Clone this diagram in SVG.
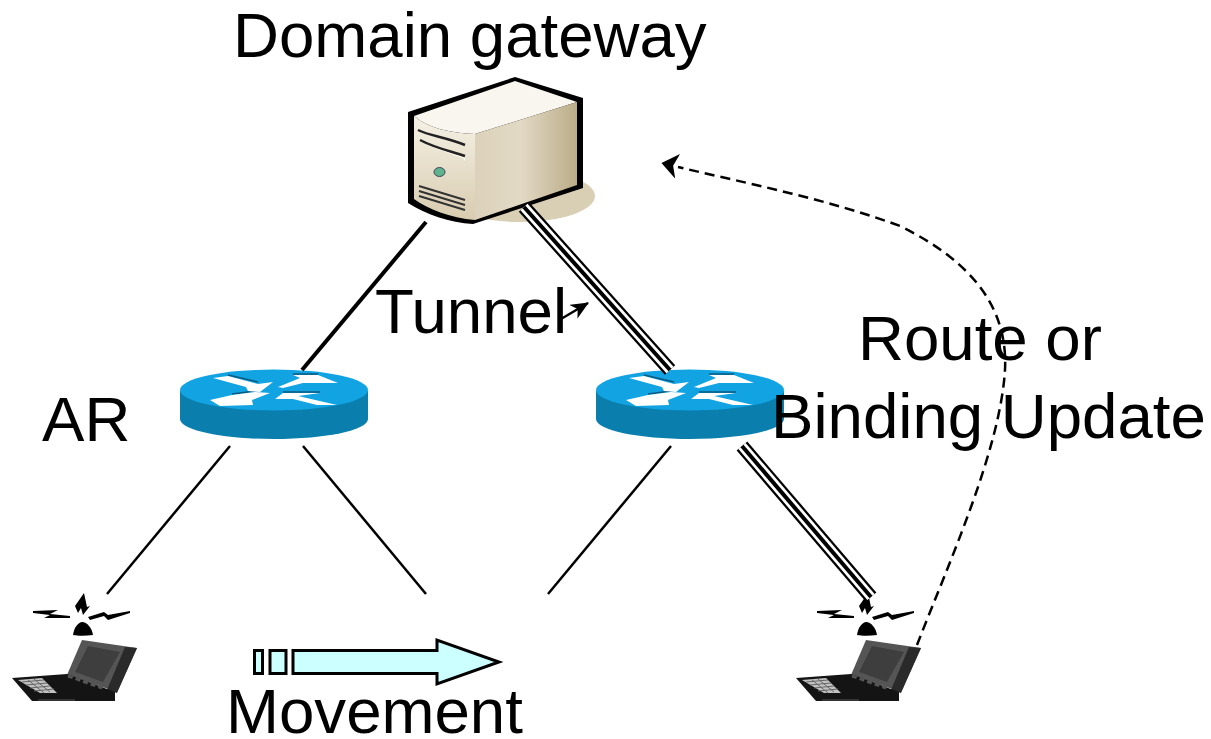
<svg xmlns="http://www.w3.org/2000/svg" width="1211" height="739" viewBox="0 0 1211 739">
<style>
text{font-family:"Liberation Sans",Arial,sans-serif;font-size:63.600px;fill:#000}
.l{fill:none;stroke:#000;stroke-width:2.5}
.tb{fill:none;stroke:#000;stroke-width:14}
.tw{fill:none;stroke:#fff;stroke-width:9.500}
.tm{fill:none;stroke:#000;stroke-width:4}
.mv{fill:#ccffff;stroke:#000;stroke-width:3}
</style>
<defs>
<linearGradient id="side" x1="0" y1="0" x2="1" y2="0"><stop offset="0" stop-color="#dcd2bb"/><stop offset=".45" stop-color="#e2d9c5"/><stop offset="1" stop-color="#bbad88"/></linearGradient>
<linearGradient id="front" x1="0" y1="0" x2="0" y2="1"><stop offset="0" stop-color="#f5f1e5"/><stop offset="1" stop-color="#d8ccb0"/></linearGradient>
<marker id="ah" markerWidth="18" markerHeight="26" refX="0" refY="12" orient="auto" markerUnits="userSpaceOnUse"><path d="M17,12 L0,0 L5,12 L1,25Z" fill="#000"/></marker>
<marker id="at" markerWidth="18" markerHeight="16" refX="17" refY="8" orient="auto" markerUnits="userSpaceOnUse"><path d="M18,8 L0,0 L5,8 L0,16Z" fill="#000"/></marker>
<g id="router">
<path d="M180,391 V419 C180,430 222,439 274,439 C326,439 368,430 368,419 V391Z" fill="#0a7fae"/>
<ellipse cx="274" cy="390" rx="94" ry="20.500" fill="#12a3e2"/>
<path d="M228,375 L258,382 M293,374 H318 M232,394 L255,391 M283,392 H320" fill="none" stroke="#0b5a80" stroke-width="1.500"/>
<g fill="#fff">
<path d="M213,378 L228,376 L258,384 L273,382 L260,392 L248,391 L246,387Z"/>
<path d="M278,387 L300,378 L293,375 L318,375 L338,383 L320,383 L303,383 L283,388Z"/>
<path d="M210,400 L232,395 L255,392 L270,393 L252,400 L253,405 L220,406Z"/>
<path d="M275,399 L283,393 L320,393 L298,396 L337,405 L317,405 L293,399Z"/>
</g>
</g>
<g id="laptop">
<path d="M75,606 L84,593 L87,607 L90,606 L83,615 L81,608 L78,613Z" fill="#000"/>
<path d="M33,611 L58,610 L50,614 L70,616 L70,618 L44,618 L50,615 L33,613Z" fill="#000"/>
<path d="M88,617 L104,612 L108,615 L130,611 L130,613 L108,620 L104,616 L90,620Z" fill="#000"/>
<path d="M73,635 C74,627 79,622 82,622 C87,622 92,628 93,635 C86,636 78,636 73,635Z" fill="#000"/>
<path d="M82,640 L137,648 L117,692 L67,675Z" fill="#555"/>
<path d="M88,646 L120,652 L103,682 L75,672Z" fill="#3e3e3e"/>
<path d="M125,647 L137,648 L117,693 L107,690Z" fill="#2a2a2a"/>
<path d="M12,678 L67,674 L115,692 V701 H32Z" fill="#141414"/>
<path d="M18,680 L42,678 L57,693 L40,693Z" fill="#c2c2c2"/>
<path d="M22,682 L44,680 M26,685 L47,683 M30,688 L50,686 M34,691 L54,689 M28,680 L44,693 M34,679 L50,692" stroke="#666" stroke-width="1" fill="none"/>
<path d="M68,676 L102,688" stroke="#555" stroke-width="3" stroke-dasharray="5 3" fill="none"/>
<path d="M38,700 H75" stroke="#333" stroke-width="2" fill="none"/>
</g>
</defs>

<g id="domain-gateway">
<ellipse cx="520" cy="196" rx="75" ry="26" fill="#d9cfb4"/>
<path d="M408,112 L515,77 L583,98 V188 L473,224 C450,223 425,214 408,203Z" fill="#000"/>
<path d="M414,116 L515,81 L577,102 L475,134 C450,133 428,128 414,116Z" fill="#f8f6ef"/>
<path d="M475,134 L577,102 V185 L475,220Z" fill="url(#side)"/>
<path d="M414,116 C428,128 450,133 475,134 V220 C450,218 428,209 414,199Z" fill="url(#front)"/>
<path d="M418,130 C430,136 445,137 465,145 M420,140 C435,148 450,151 465,156" fill="none" stroke="#222" stroke-width="2.500"/>
<path d="M420,143 L465,158 V161 L463,158Z" fill="#fff"/>
<ellipse cx="439.500" cy="172" rx="5.500" ry="4.500" fill="#5fb38e" stroke="#445" stroke-width="1"/>
<path d="M419,186 L465,200 M419,191 L465,205 M419,196 L465,210" fill="none" stroke="#333" stroke-width="2"/>
</g>
<g id="ar-left"><use href="#router"/></g>
<g id="ar-right"><use href="#router" x="416"/></g>
<g id="laptop-left"><use href="#laptop"/></g>
<g id="laptop-right"><use href="#laptop" x="784"/></g>
<g id="movement-arrow">
<rect class="mv" x="254.500" y="650.500" width="8" height="23"/>
<rect class="mv" x="270" y="650.500" width="16" height="23"/>
<path class="mv" d="M293,650.500 H437 V640 L499,662 L437,684 V673.500 H293Z"/>
</g>

<g id="connectors">
<path class="l" style="stroke-width:4" d="M426,222 L302,370"/>
<path class="l" d="M230,446 L107,594"/>
<path class="l" d="M303,446 L426,594"/>
<path class="l" d="M671,446 L548,594"/>
<g id="tunnel-up"><path class="tb" d="M524,207 L670,370"/><path class="tw" d="M524,207 L670,370"/><path class="tm" d="M524,207 L670,370"/></g>
<g id="tunnel-down"><path class="tb" d="M742,446 L871,597"/><path class="tw" d="M742,446 L871,597"/><path class="tm" d="M742,446 L871,597"/></g>
<path d="M917,645 C950,560 1000,450 1005,370 C1008,310 975,263 900,226 C830,200 750,184 678,167" fill="none" stroke="#000" stroke-width="2.500" stroke-dasharray="10 6" marker-end="url(#ah)"/>
<path d="M561,319 L588,303" fill="none" stroke="#000" stroke-width="2.500" marker-end="url(#at)"/>
</g>

<g id="labels">
<text x="233" y="57">Domain gateway</text>
<text x="375" y="333">Tunnel</text>
<text x="42" y="441">AR</text>
<text x="858" y="360">Route or</text>
<text x="771" y="438">Binding Update</text>
<text x="226" y="733">Movement</text>
</g>
</svg>
